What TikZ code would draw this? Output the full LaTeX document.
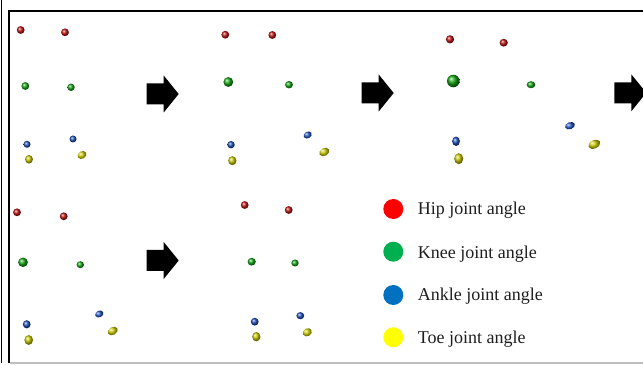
\documentclass[tikz,border=0pt]{standalone}
\usepackage{fontspec}
\setmainfont{Liberation Serif}
\definecolor{jred}{RGB}{190,20,20}
\definecolor{jgreen}{RGB}{20,165,20}
\definecolor{jblue}{RGB}{30,80,185}
\definecolor{jyellow}{RGB}{200,200,0}
\definecolor{lred}{RGB}{255,0,0}
\definecolor{lgreen}{RGB}{0,176,80}
\definecolor{lblue}{RGB}{0,112,192}
\definecolor{lyellow}{RGB}{255,255,0}
\definecolor{txt}{RGB}{30,30,30}
\newcommand\jdot[6]{\shade[ball color=#3, rotate around={#6:(#1,#2)}] (#1,#2) ellipse [x radius=#4+0.3, y radius=#5+0.3];}
\tikzset{
  bigarrow/.pic={\fill[black] (0,-10.5) -- (17,-10.5) -- (17,-18.5) -- (32,0) -- (17,18.5) -- (17,10.5) -- (0,10.5) -- cycle;},
  legdot/.style={circle, inner sep=0pt, minimum size=20pt},
  legtext/.style={anchor=base west, inner sep=0pt, text=txt, font=\fontsize{18}{20}\selectfont}
}
\begin{document}
\begin{tikzpicture}[x=1pt,y=-1pt]
\useasboundingbox (0,0) rectangle (643,366);
\fill[white] (0,0) rectangle (643,366);
% frame
\draw[line width=1.6pt] (1.6,0) -- (1.6,363);
\draw[line width=2.2pt] (8.8,363) -- (8.8,10.8) -- (643,10.8);
\draw[black!25, line width=1.2pt] (9.5,363) -- (643,363);
% arrows
\pic at (146.7,94) {bigarrow};
\pic at (361.7,93) {bigarrow};
\pic at (614.3,92.8) {bigarrow};
\pic at (146.7,260.5) {bigarrow};
% panel 1
\jdot{20.7}{30}{jred}{3.6}{3.6}{0}
\jdot{65}{32.3}{jred}{3.6}{3.6}{0}
\jdot{25.3}{86}{jgreen}{3.6}{3.6}{0}
\jdot{71}{87.3}{jgreen}{3.4}{3.4}{0}
\jdot{27}{144.3}{jblue}{3.2}{3.2}{0}
\jdot{73}{139}{jblue}{3.2}{3.2}{0}
\jdot{29}{159.3}{jyellow}{3.6}{4}{0}
\jdot{82}{155}{jyellow}{4.4}{3.4}{30}
% panel 2
\jdot{225.3}{34.7}{jred}{3.6}{3.6}{0}
\jdot{272.3}{35}{jred}{3.6}{3.6}{0}
\jdot{228.3}{82}{jgreen}{4.6}{4.6}{0}
\jdot{289}{84.7}{jgreen}{3.6}{3.4}{0}
\jdot{231}{144.7}{jblue}{3.4}{3.4}{0}
\jdot{307.7}{135}{jblue}{4}{3}{30}
\jdot{232.3}{160.7}{jyellow}{3.8}{4.2}{0}
\jdot{324.3}{152}{jyellow}{5}{3.6}{30}
% panel 3
\jdot{450}{39.3}{jred}{3.8}{3.8}{0}
\jdot{503.7}{42.7}{jred}{3.8}{3.6}{0}
\jdot{453.3}{81}{jgreen}{6}{6}{0}
\jdot{531}{84.7}{jgreen}{4}{3.2}{0}
\jdot{456}{141.3}{jblue}{3.6}{4.4}{0}
\jdot{570}{125.7}{jblue}{4.8}{3.2}{20}
\jdot{458.7}{158.7}{jyellow}{4.2}{5.2}{0}
\jdot{594.3}{144.3}{jyellow}{6}{3.8}{25}
% panel 4
\jdot{17}{212.3}{jred}{3.6}{3.6}{0}
\jdot{63.7}{216.3}{jred}{3.6}{3.6}{0}
\jdot{23}{262.3}{jgreen}{4.6}{4.4}{0}
\jdot{80.3}{264.7}{jgreen}{3.4}{3.2}{0}
\jdot{26.7}{324.3}{jblue}{3.6}{3.8}{0}
\jdot{99.3}{314}{jblue}{4}{3}{25}
\jdot{28.7}{340}{jyellow}{4}{4.6}{0}
\jdot{112.7}{331}{jyellow}{5}{3.6}{30}
% panel 5
\jdot{244.7}{205}{jred}{3.6}{3.6}{0}
\jdot{288.7}{210}{jred}{3.6}{3.6}{0}
\jdot{251.7}{261.7}{jgreen}{3.8}{3.6}{0}
\jdot{295}{263}{jgreen}{3.4}{3.2}{0}
\jdot{254.7}{321.7}{jblue}{3.6}{3.6}{0}
\jdot{300.3}{315.7}{jblue}{3.6}{3.3}{0}
\jdot{256.3}{336.7}{jyellow}{3.8}{4.4}{0}
\jdot{307.3}{332.3}{jyellow}{4.4}{3.6}{30}
% legend
\node[legdot, fill=lred] (dhip) at (393.3,209) {};
\node[legdot, fill=lgreen] (dknee) at (393.3,251.7) {};
\node[legdot, fill=lblue] (dankle) at (393.3,295) {};
\node[legdot, fill=lyellow] (dtoe) at (393.3,337.3) {};
\node[legtext] (thip) at (417.7,215) {Hip joint angle};
\node[legtext] (tknee) at (417.7,258.3) {Knee joint angle};
\node[legtext] (tankle) at (417.7,300.7) {Ankle joint angle};
\node[legtext] (ttoe) at (417.7,344) {Toe joint angle};
\end{tikzpicture}
\end{document}
